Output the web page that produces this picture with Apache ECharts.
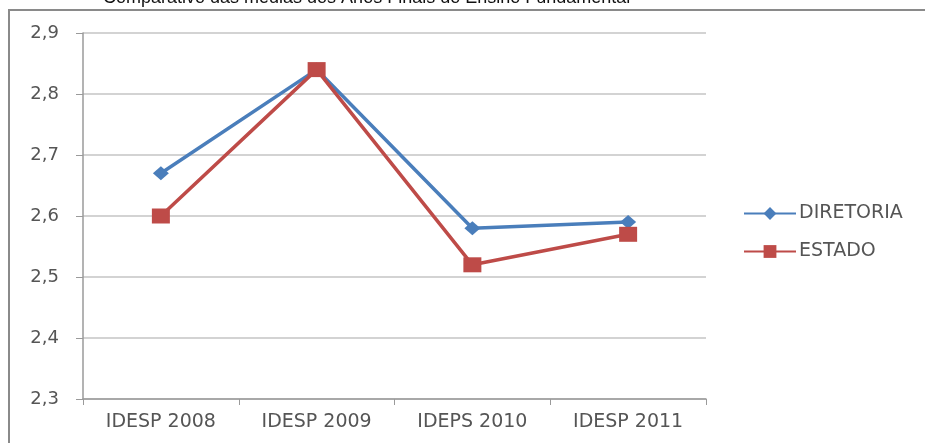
<!DOCTYPE html>
<html>
<head>
<meta charset="utf-8">
<script src="https://cdn.jsdelivr.net/npm/echarts@6/dist/echarts.min.js"></script>
<style>
  html, body { margin: 0; padding: 0; background: #ffffff; }
  #chart { width: 925px; height: 443px; }
</style>
</head>
<body>
<div id="chart"></div>
<script>
// Médias IDESP – Anos Finais do Ensino Fundamental
const categories = ['IDESP 2008', 'IDESP 2009', 'IDEPS 2010', 'IDESP 2011'];
const diretoria = [2.67, 2.84, 2.58, 2.59];
const estado = [2.60, 2.84, 2.52, 2.57];
const yTickLabels = ['2,3', '2,4', '2,5', '2,6', '2,7', '2,8', '2,9'];
const titleText = 'Comparativo das médias dos Anos Finais do Ensino Fundamental';

const textColor = '#555555';
const fontFamily = '"DejaVu Sans", sans-serif';
const blue = '#4A7EBB';
const red = '#BE4B48';

const chart = echarts.init(document.getElementById('chart'), null, { renderer: 'canvas' });

chart.setOption({
  backgroundColor: '#ffffff',
  animation: false,
  graphic: [
    {
      type: 'text',
      left: 103,
      top: -11,
      style: {
        text: titleText,
        font: '18px "Liberation Sans", Arial, sans-serif',
        fill: '#111111'
      }
    },
    {
      type: 'rect',
      shape: { x: 9, y: 10, width: 1000, height: 500 },
      style: { fill: 'none', stroke: '#8a8a8a', lineWidth: 2 },
      z: -1
    }
  ],
  grid: { left: 83, right: 219, top: 33, bottom: 44, containLabel: false },
  legend: {
    orient: 'vertical',
    left: 738,
    top: 199,
    itemWidth: 52,
    itemHeight: 16,
    itemGap: 19,
    textStyle: { color: textColor, fontSize: 19, fontFamily: fontFamily, padding: [0, 0, 0, -2] },
    data: ['DIRETORIA', 'ESTADO']
  },
  xAxis: {
    type: 'category',
    data: categories,
    boundaryGap: true,
    axisLine: { lineStyle: { color: '#9a9a9a', width: 1.5 } },
    axisTick: { show: true, length: 6, lineStyle: { color: '#9a9a9a' } },
    axisLabel: { color: textColor, fontSize: 19, fontFamily: fontFamily, margin: 14 }
  },
  yAxis: {
    type: 'value',
    min: 2.3,
    max: 2.9,
    interval: 0.1,
    axisLine: { show: true, lineStyle: { color: '#9a9a9a', width: 1.5 } },
    axisTick: { show: true, length: 7, lineStyle: { color: '#9a9a9a' } },
    splitLine: { lineStyle: { color: '#c4c4c4', width: 1.5 } },
    axisLabel: {
      color: textColor,
      fontSize: 18,
      fontFamily: fontFamily,
      margin: 24,
      formatter: function (v) {
        return yTickLabels[Math.round((v - 2.3) * 10)];
      }
    }
  },
  series: [
    {
      name: 'DIRETORIA',
      type: 'line',
      data: diretoria,
      symbol: 'diamond',
      symbolSize: [16, 14],
      itemStyle: { color: blue },
      lineStyle: { color: blue, width: 3.5 },
      z: 2
    },
    {
      name: 'ESTADO',
      type: 'line',
      data: estado,
      symbol: 'rect',
      symbolSize: [18, 15],
      itemStyle: { color: red },
      lineStyle: { color: red, width: 3.5 },
      z: 3
    }
  ]
});
</script>
</body>
</html>
